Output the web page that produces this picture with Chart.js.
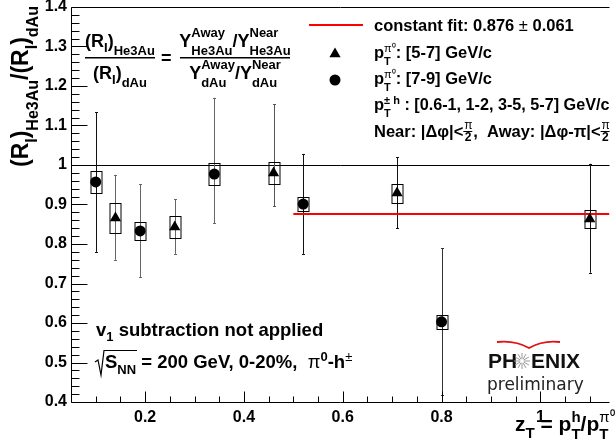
<!DOCTYPE html>
<html>
<head>
<meta charset="utf-8">
<script src="https://cdn.jsdelivr.net/npm/chart.js@4.4.1/dist/chart.umd.min.js"></script>
<style>
    html, body { margin: 0; padding: 0; background: #fff; }
</style>
</head>
<body>
<canvas id="chart" width="616" height="447"></canvas>
<script>
// pi0 pT 5-7 GeV/c (triangles)
const triZ = [0.14, 0.26, 0.46, 0.71, 1.10];
const triR = [0.866, 0.843, 0.980, 0.929, 0.863];
const triStatUp = [0.109, 0.071, 0.174, 0.091, 0.140];
const triStatDn = [0.106, 0.068, 0.084, 0.089, 0.136];
const triSys = [0.039, 0.028, 0.027, 0.024, 0.023];

// pi0 pT 7-9 GeV/c (circles)
const cirZ = [0.10, 0.19, 0.34, 0.52, 0.80];
const cirR = [0.957, 0.833, 0.977, 0.901, 0.603];
const cirStatUp = [0.177, 0.119, 0.193, 0.127, 0.187];
const cirStatDn = [0.177, 0.117, 0.124, 0.126, 0.185];
const cirSys = [0.027, 0.022, 0.027, 0.018, 0.017];

// constant fit
const fitValue = 0.876;
const fitRange = [0.5, 1.14];

// axes
const xRange = [0.05, 1.14];
const yRange = [0.4, 1.4];
const xTickValues = [0.2, 0.4, 0.6, 0.8, 1];
const yTickValues = [0.4, 0.5, 0.6, 0.7, 0.8, 0.9, 1, 1.1, 1.2, 1.3, 1.4];

const FONT = '"Liberation Sans", Arial, Helvetica, sans-serif';
const font = (s, w) => `${w || 'bold'} ${s}px ${FONT}`;

// draws a run of text with sub/superscripts, returns end x
function rich(ctx, x, y, parts, dry) {
    parts.forEach(p => {
        if (p.sup !== undefined || p.sub !== undefined) {
            ctx.font = font(p.s, p.w);
            let w = 0;
            if (p.sup) { if (!dry) ctx.fillText(p.sup, x, y + p.up); w = ctx.measureText(p.sup).width; }
            if (p.sub) { ctx.font = font(p.s); if (!dry) ctx.fillText(p.sub, x, y + p.dn); w = Math.max(w, ctx.measureText(p.sub).width); }
            x += w;
        } else {
            ctx.font = font(p.s, p.w);
            if (!dry) ctx.fillText(p.t, x, y + (p.dy || 0));
            x += ctx.measureText(p.t).width;
        }
    });
    return x;
}

function smallFrac(ctx, x, y) {
    // pi over 2
    ctx.font = font(12, 'normal');
    ctx.fillText('\u03c0', x + 1, y - 8);
    ctx.fillRect(x, y - 6, 9, 1);
    ctx.font = font(12);
    ctx.fillText('2', x + 1.5, y + 4);
    return x + 10;
}

function drawTriangle(ctx, x, y, r) {
    ctx.beginPath();
    ctx.moveTo(x, y - r);
    ctx.lineTo(x + r * 0.866, y + r * 0.5);
    ctx.lineTo(x - r * 0.866, y + r * 0.5);
    ctx.closePath();
    ctx.fill();
}

function drawCircle(ctx, x, y, r) {
    ctx.beginPath();
    ctx.arc(x, y, r, 0, Math.PI * 2);
    ctx.fill();
}

const errorBars = {
    id: 'errorBars',
    beforeDatasetsDraw(chart) {
        const ctx = chart.ctx;
        const xs = chart.scales.x, ys = chart.scales.y;
        const area = chart.chartArea;
        ctx.save();
        // unity line
        const y1 = Math.round(ys.getPixelForValue(1)) + 0.5;
        ctx.strokeStyle = '#000';
        ctx.lineWidth = 1;
        ctx.beginPath();
        ctx.moveTo(area.left, y1);
        ctx.lineTo(area.right, y1);
        ctx.stroke();

        const sets = [
            [triZ, triR, triStatUp, triStatDn, triSys, ['#666', '#666', '#555', '#111', '#111']],
            [cirZ, cirR, cirStatUp, cirStatDn, cirSys, ['#111', '#666', '#666', '#111', '#333']]
        ];
        sets.forEach(([zs, rs, up, dn, sys, cols]) => {
            zs.forEach((z, i) => {
                const px = Math.round(xs.getPixelForValue(z)) + 0.5;
                const top = ys.getPixelForValue(rs[i] + up[i]);
                const bot = ys.getPixelForValue(rs[i] - dn[i]);
                ctx.strokeStyle = cols[i];
                ctx.beginPath();
                ctx.moveTo(px, top);
                ctx.lineTo(px, bot);
                ctx.moveTo(px - 1.5, Math.round(top) + 0.5);
                ctx.lineTo(px + 1.5, Math.round(top) + 0.5);
                ctx.moveTo(px - 1.5, Math.round(bot) + 0.5);
                ctx.lineTo(px + 1.5, Math.round(bot) + 0.5);
                ctx.stroke();
                // systematic box
                const bt = Math.round(ys.getPixelForValue(rs[i] + sys[i])) + 0.5;
                const bb = Math.round(ys.getPixelForValue(rs[i] - sys[i])) + 0.5;
                ctx.strokeStyle = '#000';
                ctx.strokeRect(px - 5.5, bt, 11, bb - bt);
            });
        });
        ctx.restore();
    },
    afterDraw(chart) {
        const ctx = chart.ctx;
        const xs = chart.scales.x, ys = chart.scales.y;
        const area = chart.chartArea;
        ctx.save();
        ctx.fillStyle = '#000';
        ctx.strokeStyle = '#000';
        ctx.lineWidth = 1;
        ctx.textBaseline = 'alphabetic';
        ctx.textAlign = 'left';

        // frame
        const L = Math.round(area.left) + 0.5, B = Math.round(area.bottom) + 0.5, T = Math.round(area.top) + 0.5;
        ctx.beginPath();
        ctx.moveTo(L, T); ctx.lineTo(area.right, T);
        ctx.moveTo(L, T); ctx.lineTo(L, B);
        ctx.moveTo(L, B); ctx.lineTo(area.right, B);
        // x ticks (inside)
        for (let k = 1; k <= 22; k++) {
            const v = k * 0.05;
            if (v <= xRange[0] + 1e-9 || v > xRange[1]) continue;
            const px = Math.round(xs.getPixelForValue(v)) + 0.5;
            const len = (k % 4 === 0) ? 11 : 6;
            ctx.moveTo(px, B); ctx.lineTo(px, B - len);
        }
        // y ticks (inside)
        for (let k = 20; k <= 70; k++) {
            const v = k * 0.02;
            const py = Math.round(ys.getPixelForValue(v)) + 0.5;
            const len = (k % 5 === 0) ? 16 : 8;
            ctx.moveTo(L, py); ctx.lineTo(L + len, py);
        }
        ctx.stroke();

        // y axis title
        ctx.save();
        ctx.translate(28, 167);
        ctx.rotate(-Math.PI / 2);
        rich(ctx, 0, 0, [
            { t: '(R', s: 23 }, { t: 'I', s: 16, dy: 9 }, { t: ')', s: 23 },
            { t: 'He3Au', s: 16, dy: 10 }, { t: '/(R', s: 23 }, { t: 'I', s: 16, dy: 9 },
            { t: ')', s: 23 }, { t: 'dAu', s: 16, dy: 10 }
        ]);
        ctx.restore();

        // x axis title
        rich(ctx, 515, 431, [
            { t: 'z', s: 21 }, { t: 'T', s: 15, dy: 7 }, { t: ' = p', s: 21 },
            { sup: 'h', sub: 'T', s: 15, up: -9, dn: 8 }, { t: '/p', s: 21 },
            { sup: '\u03c0\u2070', sub: 'T', s: 15, up: -9, dn: 8, w: 'normal' }
        ]);

        // formula top-left
        const num1 = [{ t: '(R', s: 18 }, { t: 'I', s: 13, dy: 5 }, { t: ')', s: 18 }, { t: 'He3Au', s: 13, dy: 8 }];
        const den1 = [{ t: '(R', s: 18 }, { t: 'I', s: 13, dy: 5 }, { t: ')', s: 18 }, { t: 'dAu', s: 13, dy: 8 }];
        const num2 = [{ t: 'Y', s: 18 }, { sup: 'Away', sub: 'He3Au', s: 13, up: -10, dn: 8 },
                      { t: '/Y', s: 18 }, { sup: 'Near', sub: 'He3Au', s: 13, up: -10, dn: 8 }];
        const den2 = [{ t: 'Y', s: 18 }, { sup: 'Away', sub: 'dAu', s: 13, up: -10, dn: 8 },
                      { t: '/Y', s: 18 }, { sup: 'Near', sub: 'dAu', s: 13, up: -10, dn: 8 }];
        const frac = (num, den, x0, x1) => {
            const wn = rich(ctx, 0, 0, num, true), wd = rich(ctx, 0, 0, den, true);
            const c = (x0 + x1) / 2;
            rich(ctx, c - wn / 2, 47, num);
            rich(ctx, c - wd / 2, 79, den);
            ctx.fillRect(x0, 57, x1 - x0, 1.5);
        };
        frac(num1, den1, 85, 155);
        ctx.font = font(18);
        ctx.fillText('=', 161, 64);
        frac(num2, den2, 180, 290);

        // legend
        ctx.strokeStyle = '#ff0000';
        ctx.lineWidth = 2;
        ctx.beginPath();
        ctx.moveTo(309, 25); ctx.lineTo(363, 25);
        ctx.stroke();
        ctx.fillStyle = '#000';
        rich(ctx, 374, 31, [{ t: 'constant fit: 0.876 ', s: 16.5 }, { t: '\u00b1', s: 16.5, w: 'normal' }, { t: ' 0.061', s: 16.5 }]);
        drawTriangle(ctx, 335, 54, 6.5);
        rich(ctx, 374, 58, [{ t: 'p', s: 16.5 }, { sup: '\u03c0\u2070', sub: 'T', s: 11, up: -6, dn: 7, w: 'normal' }, { t: ': [5-7] GeV/c', s: 16.5 }]);
        drawCircle(ctx, 335, 80, 5.5);
        rich(ctx, 374, 84, [{ t: 'p', s: 16.5 }, { sup: '\u03c0\u2070', sub: 'T', s: 11, up: -6, dn: 7, w: 'normal' }, { t: ': [7-9] GeV/c', s: 16.5 }]);
        rich(ctx, 374, 110, [{ t: 'p', s: 16.5 }, { sup: '\u00b1 h', sub: 'T', s: 11, up: -6, dn: 7 }, { t: ' : [0.6-1, 1-2, 3-5, 5-7] GeV/c', s: 16.2 }]);
        let x = rich(ctx, 374, 137, [{ t: 'Near: |\u0394\u03c6|<', s: 16.5 }]);
        x = smallFrac(ctx, x, 137);
        x = rich(ctx, x, 137, [{ t: ',  Away: |\u0394\u03c6-\u03c0|<', s: 16.5 }]);
        smallFrac(ctx, x, 137);

        // bottom-left text
        rich(ctx, 96, 336, [{ t: 'v', s: 18.5 }, { t: '1', s: 13, dy: 5 }, { t: ' subtraction not applied', s: 18.5 }]);
        ctx.lineWidth = 1.2;
        ctx.strokeStyle = '#000';
        ctx.beginPath();
        ctx.moveTo(95, 362); ctx.lineTo(98, 360); ctx.lineTo(101, 375); ctx.lineTo(104, 350.5); ctx.lineTo(137, 350.5);
        ctx.stroke();
        rich(ctx, 105, 368, [
            { t: 'S', s: 18.5 }, { t: 'NN', s: 13, dy: 6 }, { t: ' = 200 GeV, 0-20%,  ', s: 18.5 },
            { t: '\u03c0', s: 18.5, w: 'normal' }, { t: '0', s: 13, dy: -7 }, { t: '-h', s: 18.5 },
            { t: '\u00b1', s: 13, dy: -7, w: 'normal' }
        ]);

        // PHENIX logo
        ctx.strokeStyle = '#e01010';
        ctx.lineWidth = 1.8;
        ctx.beginPath();
        ctx.moveTo(497, 342);
        ctx.quadraticCurveTo(515, 340, 529, 348);
        ctx.quadraticCurveTo(543, 340, 560, 342);
        ctx.stroke();
        ctx.fillStyle = '#111';
        ctx.font = font(21);
        ctx.fillText('PH', 488, 368);
        ctx.fillText('ENIX', 531, 368);
        ctx.strokeStyle = '#999';
        ctx.lineWidth = 1;
        ctx.beginPath();
        for (let k = 0; k < 12; k++) {
            const a = k * Math.PI / 6;
            ctx.moveTo(522 + Math.cos(a) * 2, 361 + Math.sin(a) * 2);
            ctx.lineTo(522 + Math.cos(a) * 8, 361 + Math.sin(a) * 8);
        }
        ctx.stroke();
        ctx.fillStyle = '#222';
        ctx.font = '17px "DejaVu Sans", sans-serif';
        ctx.fillText('preliminary', 487, 390);
        ctx.restore();
    }
};

new Chart(document.getElementById('chart'), {
    type: 'scatter',
    data: {
        datasets: [
            {
                label: 'pT pi0 [5-7] GeV/c',
                data: triZ.map((z, i) => ({ x: z, y: triR[i] })),
                pointStyle: 'triangle',
                pointRadius: 6.5,
                pointHoverRadius: 6.5,
                backgroundColor: '#000',
                borderColor: '#000',
                borderWidth: 0
            },
            {
                label: 'pT pi0 [7-9] GeV/c',
                data: cirZ.map((z, i) => ({ x: z, y: cirR[i] })),
                pointStyle: 'circle',
                pointRadius: 5.5,
                pointHoverRadius: 5.5,
                backgroundColor: '#000',
                borderColor: '#000',
                borderWidth: 0
            },
            {
                type: 'line',
                label: 'constant fit',
                data: fitRange.map(x => ({ x: x, y: fitValue })),
                borderColor: '#ff0000',
                borderWidth: 2,
                pointRadius: 0,
                showLine: true,
                order: 5
            }
        ]
    },
    options: {
        responsive: false,
        animation: false,
        devicePixelRatio: 1,
        layout: { padding: { top: 7, right: 0, left: 0, bottom: 0 } },
        plugins: { legend: { display: false }, tooltip: { enabled: false } },
        scales: {
            x: {
                type: 'linear',
                min: xRange[0],
                max: xRange[1],
                afterBuildTicks: s => { s.ticks = xTickValues.map(v => ({ value: v })); },
                afterFit: s => { s.height = 45; s.paddingLeft = 0; s.paddingRight = 0; },
                grid: { display: false, drawTicks: false },
                border: { display: false },
                ticks: {
                    color: '#000',
                    font: { family: FONT, size: 16, weight: 'bold' },
                    padding: 6,
                    maxRotation: 0,
                    autoSkip: false,
                    callback: v => String(v)
                }
            },
            y: {
                type: 'linear',
                min: yRange[0],
                max: yRange[1],
                afterBuildTicks: s => { s.ticks = yTickValues.map(v => ({ value: v })); },
                afterFit: s => { s.width = 71; s.paddingTop = 0; s.paddingBottom = 0; },
                grid: { display: false, drawTicks: false },
                border: { display: false },
                ticks: {
                    color: '#000',
                    font: { family: FONT, size: 16, weight: 'bold' },
                    padding: 4,
                    autoSkip: false,
                    callback: v => String(v)
                }
            }
        }
    },
    plugins: [errorBars]
});
</script>
</body>
</html>
